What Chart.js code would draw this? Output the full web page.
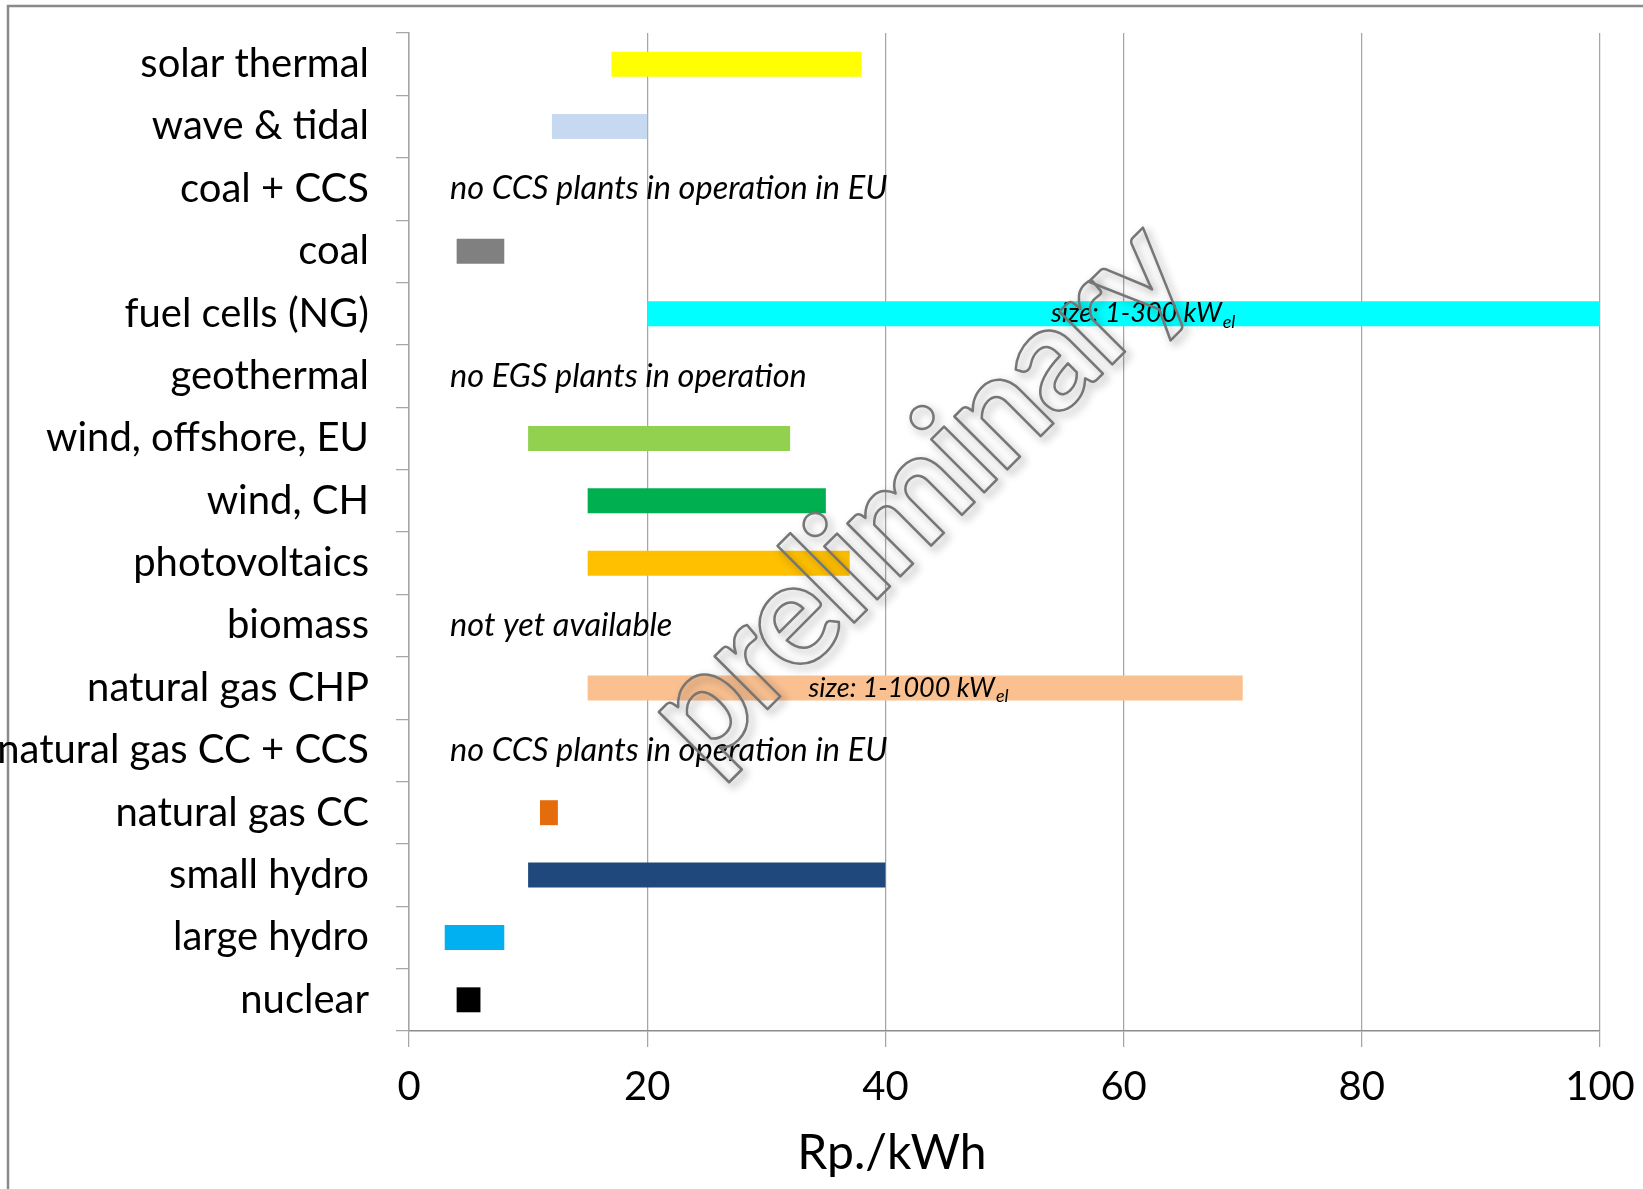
<!DOCTYPE html>
<html>
<head>
<meta charset="utf-8">
<script src="https://cdn.jsdelivr.net/npm/chart.js@4"></script>
<style>
  body { margin: 0; background: #fff; }
  canvas { display: block; }
</style>
</head>
<body>
<canvas id="costChart" width="1643" height="1189"></canvas>
<script>
// categories, top to bottom
const categories = [
  'solar thermal', 'wave & tidal', 'coal + CCS', 'coal', 'fuel cells (NG)',
  'geothermal', 'wind, offshore, EU', 'wind, CH', 'photovoltaics', 'biomass',
  'natural gas CHP', 'natural gas CC + CCS', 'natural gas CC', 'small hydro',
  'large hydro', 'nuclear'
];

// cost range in Rp./kWh (null = no bar)
const costLow  = [17, 12, null, 4, 20, null, 10, 15, 15, null, 15, null, 11, 10, 3, 4];
const costHigh = [38, 20, null, 8, 100, null, 32, 35, 37, null, 70, null, 12.5, 40, 8, 6];

const barColors = [
  '#ffff00', '#c6d9f1', '#808080', '#808080', '#00ffff',
  '#808080', '#92d050', '#00b050', '#ffc000', '#808080',
  '#fac090', '#808080', '#e46c0a', '#1f497d', '#00b0f0', '#000000'
];

const xTicks = [0, 20, 40, 60, 80, 100];

// notes in rows without a bar
const noteRows = ['coal + CCS', 'geothermal', 'biomass', 'natural gas CC + CCS'];
const noteTexts = [
  'no CCS plants in operation in EU',
  'no EGS plants in operation',
  'not yet available',
  'no CCS plants in operation in EU'
];

// plant size notes inside bars
const sizeRows = ['fuel cells (NG)', 'natural gas CHP'];
const sizeTexts = ['size: 1-300 kW', 'size: 1-1000 kW'];
const sizeSub = 'el';

const axisTitle = 'Rp./kWh';
const watermark = 'preliminary';

const FONT = 'Lato';

// grey frame around the picture (top and left edges only visible)
const framePlugin = {
  id: 'frame',
  beforeDraw(chart) {
    const ctx = chart.ctx;
    ctx.save();
    ctx.fillStyle = '#fff';
    ctx.fillRect(0, 0, chart.width, chart.height);
    ctx.strokeStyle = '#8a8a8a';
    ctx.lineWidth = 2.5;
    ctx.beginPath();
    ctx.moveTo(8, chart.height);
    ctx.lineTo(8, 6);
    ctx.lineTo(chart.width, 6);
    ctx.stroke();
    ctx.restore();
  }
};

// italic notes, size labels, axis title and watermark
const notesPlugin = {
  id: 'notes',
  afterDatasetsDraw(chart) {
    const ctx = chart.ctx;
    const x = chart.scales.x;
    const y = chart.scales.y;
    ctx.save();
    ctx.fillStyle = '#000';
    ctx.textBaseline = 'middle';
    ctx.textAlign = 'left';
    ctx.font = `italic 32.5px ${FONT}`;
    noteRows.forEach((row, i) => {
      const py = y.getPixelForValue(categories.indexOf(row));
      ctx.fillText(noteTexts[i], x.getPixelForValue(3.45), py);
    });

    const centres = [61.6, 41.9];
    sizeRows.forEach((row, i) => {
      const py = y.getPixelForValue(categories.indexOf(row));
      ctx.font = `italic 27px ${FONT}`;
      const w1 = ctx.measureText(sizeTexts[i]).width;
      ctx.font = `italic 18px ${FONT}`;
      const w2 = ctx.measureText(sizeSub).width;
      const start = x.getPixelForValue(centres[i]) - (w1 + w2) / 2;
      ctx.font = `italic 27px ${FONT}`;
      ctx.fillText(sizeTexts[i], start, py);
      ctx.font = `italic 18px ${FONT}`;
      ctx.fillText(sizeSub, start + w1 + 1, py + 8);
    });
    ctx.restore();
  },
  afterDraw(chart) {
    const ctx = chart.ctx;
    // axis title, sits left of the plot centre like in the original
    ctx.save();
    ctx.fillStyle = '#000';
    ctx.font = `48px ${FONT}`;
    ctx.textAlign = 'center';
    ctx.textBaseline = 'middle';
    ctx.fillText(axisTitle, 892, 1154);

    // outlined watermark
    ctx.translate(916, 494);
    ctx.rotate(-45 * Math.PI / 180);
    ctx.font = `bold 146px ${FONT}`;
    ctx.letterSpacing = '-4px';
    ctx.textAlign = 'center';
    ctx.textBaseline = 'middle';
    ctx.lineJoin = 'round';
    ctx.shadowColor = 'rgba(0, 0, 0, 0.4)';
    ctx.shadowBlur = 8;
    ctx.shadowOffsetX = 4;
    ctx.shadowOffsetY = 4;
    ctx.strokeStyle = '#767676';
    ctx.lineWidth = 2.5;
    ctx.strokeText(watermark, 0, 0);
    ctx.restore();
  }
};

const ctx = document.getElementById('costChart').getContext('2d');

new Chart(ctx, {
  type: 'bar',
  data: {
    labels: categories,
    datasets: [{
      data: costLow.map((lo, i) => lo === null ? null : [lo, costHigh[i]]),
      backgroundColor: barColors,
      borderWidth: 0,
      barPercentage: 0.4,
      categoryPercentage: 1.0,
    }],
  },
  options: {
    indexAxis: 'y',
    responsive: false,
    animation: false,
    devicePixelRatio: 1,
    layout: {
      padding: {top: 33, right: 43, left: 0, bottom: 0}
    },
    scales: {
      x: {
        type: 'linear',
        min: xTicks[0],
        max: xTicks[xTicks.length - 1],
        ticks: {
          stepSize: xTicks[1] - xTicks[0],
          color: '#000',
          font: {family: FONT, size: 40},
          padding: 16,
        },
        grid: {color: '#a6a6a6', lineWidth: 1.25, tickLength: 16},
        border: {color: '#8c8c8c', width: 1.5},
        afterFit(scale) {
          scale.height = 158;
          scale.paddingLeft = 0;
          scale.paddingRight = 0;
        }
      },
      y: {
        type: 'category',
        ticks: {
          color: '#000',
          font: {family: FONT, size: 40},
          padding: 27,
          autoSkip: false,
        },
        grid: {
          drawOnChartArea: false,
          offset: true,
          tickLength: 13,
          color: '#a6a6a6',
          lineWidth: 1.25,
        },
        border: {color: '#a6a6a6', width: 1.5},
        afterFit(scale) {
          scale.width = 409;
          scale.paddingTop = 0;
          scale.paddingBottom = 0;
        }
      }
    },
    plugins: {
      legend: {display: false},
      tooltip: {enabled: false}
    }
  },
  plugins: [framePlugin, notesPlugin]
});
</script>
</body>
</html>
